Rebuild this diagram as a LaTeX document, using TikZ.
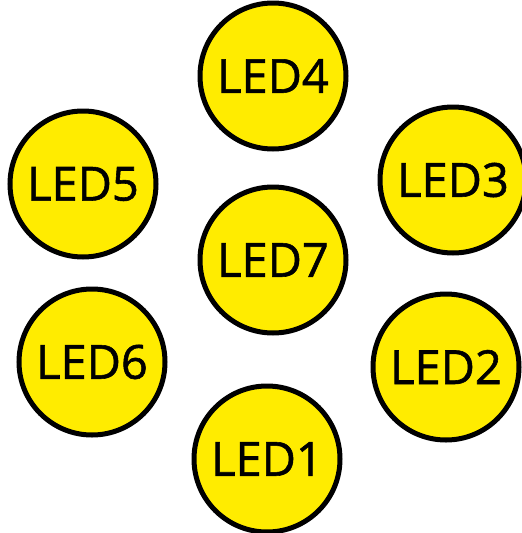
\documentclass[tikz,border=0pt]{standalone}
\usepackage{fontspec}
\setmainfont{Open Sans}
\newfontfamily\ledfont[FakeBold=1.2]{Open Sans}
\definecolor{ledyellow}{RGB}{255,236,0}
\begin{document}
\begin{tikzpicture}[x=1pt, y=-1pt,
  led/.style={circle, draw=black, line width=5pt, fill=ledyellow,
    minimum size=146pt, inner sep=0pt,
    font=\ledfont\fontsize{47}{50}\selectfont}]
  \useasboundingbox (0,0) rectangle (522,533);
  \node[led] (led4) at (273,76) {LED4};
  \node[led] (led5) at (83,184) {LED5};
  \node[led] (led3) at (453,180) {LED3};
  \node[led] (led7) at (273,260) {LED7};
  \node[led] (led6) at (92,362) {LED6};
  \node[led] (led2) at (446,367) {LED2};
  \node[led] (led1) at (267,459) {LED1};
\end{tikzpicture}
\end{document}
